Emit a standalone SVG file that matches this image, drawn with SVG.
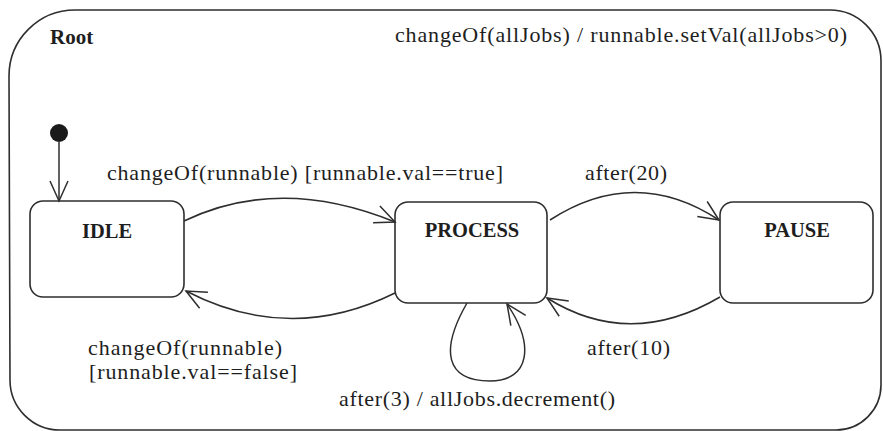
<svg xmlns="http://www.w3.org/2000/svg" width="883" height="431" viewBox="0 0 883 431">
  <style>
    .border { fill: none; stroke: #2e2e2e; stroke-width: 1.6; }
    .state { fill: #ffffff; stroke: #2e2e2e; stroke-width: 1.6; }
    .name { font-family: "Liberation Serif", "Times New Roman", serif; font-weight: bold; font-size: 20.5px; fill: #1e1e1e; text-anchor: middle; }
    .label { font-family: "Liberation Serif", "Times New Roman", serif; font-size: 22px; fill: #1e1e1e; }
    .edge { fill: none; stroke: #2e2e2e; stroke-width: 1.5; marker-end: url(#arr); }
  </style>
  <defs>
    <marker id="arr" markerUnits="userSpaceOnUse" markerWidth="30" markerHeight="30" viewBox="-22 -15 30 30" refX="0" refY="0" orient="auto" overflow="visible">
      <path d="M-20,-9 L0,0 L-20,9" fill="none" stroke="#2e2e2e" stroke-width="1.5"/>
    </marker>
  </defs>
  <rect width="883" height="431" fill="#ffffff"/>

  <g id="root">
    <path class="border" d="M9,76 A66,66 0 0 1 75,10 L830,10 A51,51 0 0 1 881,61 L881,385 A45,45 0 0 1 836,430 L60,430 A50,50 0 0 1 10,380 Z"/>
    <text x="50" y="44" class="name" style="text-anchor:start;font-size:21px">Root</text>
    <text x="395" y="42" class="label" textLength="452">changeOf(allJobs) / runnable.setVal(allJobs&gt;0)</text>
  </g>

  <g id="initial">
    <circle cx="59" cy="133" r="9" fill="#1a1a1a"/>
  </g>

  <g id="idle">
    <rect class="state" x="30" y="201" width="154" height="96" rx="13" ry="13"/>
    <text x="107" y="238" class="name">IDLE</text>
  </g>

  <g id="process">
    <rect class="state" x="395" y="202" width="152" height="101" rx="13" ry="13"/>
    <text x="472" y="237" class="name">PROCESS</text>
  </g>

  <g id="pause">
    <rect class="state" x="720" y="202" width="153" height="101" rx="13" ry="13"/>
    <text x="797" y="237" class="name">PAUSE</text>
  </g>

  <g id="connectors">
    <path class="edge" d="M59,142 L59,201"/>
    <path class="edge" d="M184,221 Q280,175 395,222"/>
    <path class="edge" d="M395,293 Q290,345 186,291"/>
    <path class="edge" d="M550,220 Q635,165 719,220"/>
    <path class="edge" d="M720,297 Q630,350 547,298"/>
    <path class="edge" d="M467,303 C440,350 445,381 490,381 C530,381 535,345 507,304"/>
  </g>

  <g id="labels">
    <text x="107" y="180" class="label" textLength="396">changeOf(runnable) [runnable.val==true]</text>
    <text x="585" y="180" class="label" textLength="82">after(20)</text>
    <text x="88" y="355" class="label" textLength="194">changeOf(runnable)</text>
    <text x="89" y="379" class="label" textLength="208">[runnable.val==false]</text>
    <text x="587" y="355" class="label" textLength="83">after(10)</text>
    <text x="339" y="406" class="label" textLength="276">after(3) / allJobs.decrement()</text>
  </g>
</svg>
